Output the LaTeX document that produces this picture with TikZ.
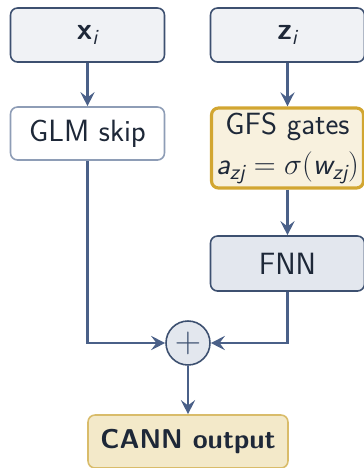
\documentclass[tikz,border=0pt]{standalone}
\usepackage{amsmath}
\usetikzlibrary{positioning,arrows.meta}
\definecolor{inkblue}{HTML}{4A6088}
\definecolor{darkline}{HTML}{3D5070}
\definecolor{paleline}{HTML}{8E9DB6}
\definecolor{inputfill}{HTML}{F0F2F5}
\definecolor{fnnfill}{HTML}{E3E7EE}
\definecolor{gatefill}{HTML}{F8F1DE}
\definecolor{gateline}{HTML}{D2A631}
\definecolor{outfill}{HTML}{F3E9C9}
\definecolor{outline}{HTML}{D9BC6A}
\definecolor{textcol}{HTML}{1E2838}
\tikzset{
  box/.style={draw=darkline, line width=0.9pt, rounded corners=0.14cm,
    minimum width=3.08cm, text=textcol, align=center,
    font=\sffamily\fontsize{17.5}{20}\selectfont},
  inbox/.style={box, fill=inputfill, minimum height=1.08cm},
  flow/.style={draw=inkblue, line width=1.4pt, -{Stealth[length=8pt,width=8pt,inset=3pt]}},
}
\begin{document}
\begin{tikzpicture}[x=0.02cm,y=-0.02cm]
  \useasboundingbox (0,0) rectangle (364,468);
  \node[inbox] (x-in) at (87.5,35) {$\textbf{x}_{\textit{i}}$};
  \node[inbox] (z-in) at (287.5,35) {$\textbf{z}_{\textit{i}}$};
  \node[box, draw=paleline, fill=white, minimum height=1.06cm] (glm) at (87.5,133.5) {GLM skip};
  \node[box, draw=gateline, line width=1.8pt, fill=gatefill, minimum height=1.6cm,
    minimum width=3.04cm, inner sep=2pt] (gates) at (287.5,148)
    {GFS gates\\[3pt]$\textit{a}_{\textit{zj}}=\sigma(\textit{w}_{\textit{zj}})$};
  \node[box, fill=fnnfill, minimum height=1.1cm] (fnn) at (287.5,263.5) {FNN};
  \node[circle, draw=darkline, line width=0.9pt, fill=fnnfill, minimum size=0.88cm,
    inner sep=0pt, text=darkline, font=\fontsize{20}{20}\selectfont] (sum) at (188,343) {$+$};
  \node[box, draw=outline, fill=outfill, minimum width=4cm, minimum height=1.06cm,
    font=\sffamily\bfseries\fontsize{15.5}{19}\selectfont] (cann) at (188,441.5)
    {CANN output};
  % connections
  \draw[flow] (x-in) -- (glm);
  \draw[flow] (z-in) -- (gates);
  \draw[flow] (gates) -- (fnn);
  \draw[flow] (glm.south) |- (sum.west);
  \draw[flow] (fnn.south) |- (sum.east);
  \draw[flow] (sum) -- (cann);
\end{tikzpicture}
\end{document}
